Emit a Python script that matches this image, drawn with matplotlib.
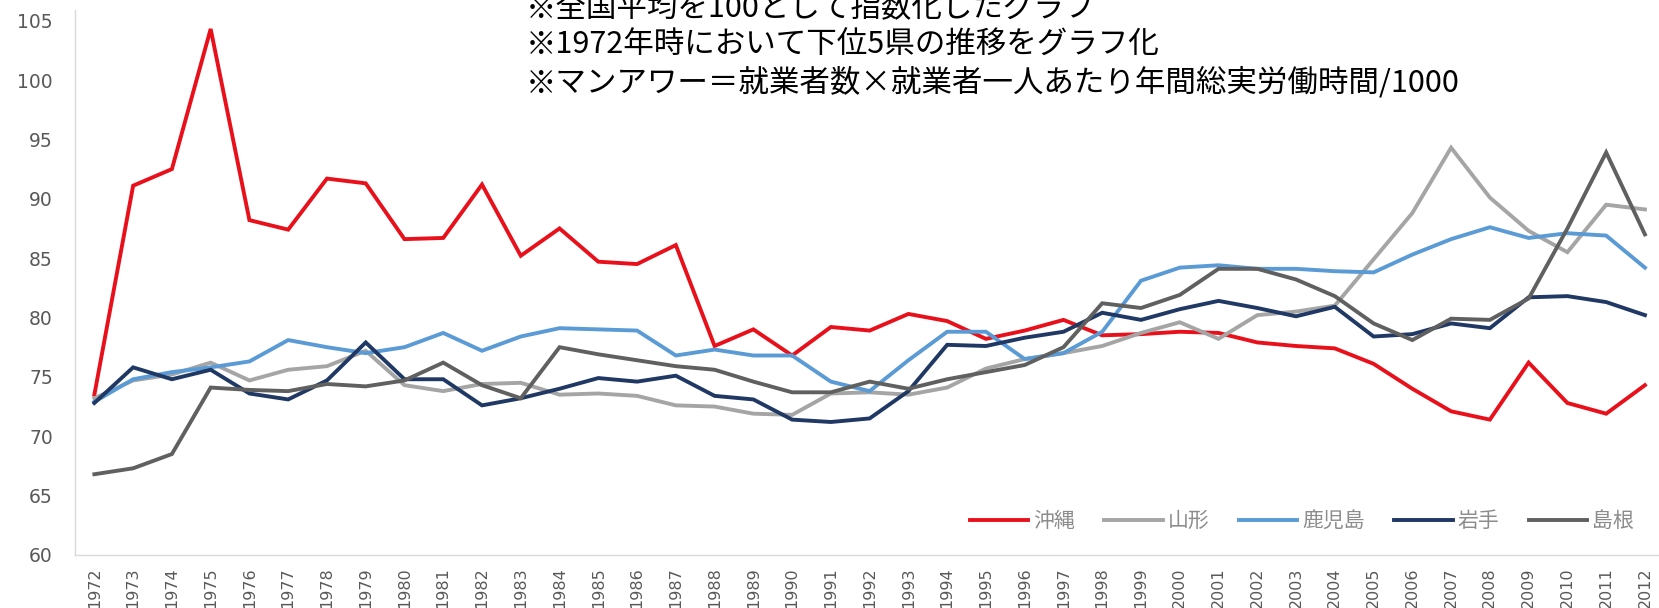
import matplotlib

matplotlib.use("Agg")
import matplotlib.pyplot as plt

years = list(range(1972, 2013))

okinawa = [73.5, 91.1, 92.5, 104.3, 88.2, 87.4, 91.7, 91.3, 86.6, 86.7,
           91.2, 85.2, 87.5, 84.7, 84.5, 86.1, 77.6, 79.0, 76.8, 79.2,
           78.9, 80.3, 79.7, 78.2, 78.9, 79.8, 78.5, 78.6, 78.8, 78.7,
           77.9, 77.6, 77.4, 76.1, 74.0, 72.1, 71.4, 76.2, 72.8, 71.9, 74.3]
yamagata = [73.2, 74.7, 75.2, 76.2, 74.7, 75.6, 75.9, 77.2, 74.3, 73.8,
            74.4, 74.5, 73.5, 73.6, 73.4, 72.6, 72.5, 71.9, 71.8, 73.6,
            73.7, 73.5, 74.1, 75.7, 76.5, 77.0, 77.6, 78.7, 79.6, 78.2,
            80.2, 80.5, 81.0, 84.9, 88.8, 94.3, 90.1, 87.3, 85.5, 89.5, 89.1]
kagoshima = [72.9, 74.8, 75.4, 75.8, 76.3, 78.1, 77.5, 77.0, 77.5, 78.7,
             77.2, 78.4, 79.1, 79.0, 78.9, 76.8, 77.3, 76.8, 76.8, 74.6,
             73.8, 76.4, 78.8, 78.8, 76.5, 77.0, 78.8, 83.1, 84.2, 84.4,
             84.1, 84.1, 83.9, 83.8, 85.3, 86.6, 87.6, 86.7, 87.1, 86.9, 84.2]
iwate = [72.8, 75.8, 74.8, 75.6, 73.6, 73.1, 74.7, 77.9, 74.8, 74.8,
         72.6, 73.2, 74.0, 74.9, 74.6, 75.1, 73.4, 73.1, 71.4, 71.2,
         71.5, 73.8, 77.7, 77.6, 78.3, 78.8, 80.4, 79.8, 80.7, 81.4,
         80.8, 80.1, 80.9, 78.4, 78.6, 79.5, 79.1, 81.7, 81.8, 81.3, 80.2]
shimane = [66.8, 67.3, 68.5, 74.1, 73.9, 73.8, 74.4, 74.2, 74.7, 76.2,
           74.3, 73.2, 77.5, 76.9, 76.4, 75.9, 75.6, 74.6, 73.7, 73.7,
           74.6, 74.0, 74.8, 75.4, 76.0, 77.5, 81.2, 80.8, 81.9, 84.1,
           84.1, 83.2, 81.8, 79.5, 78.1, 79.9, 79.8, 81.6, 87.5, 93.9, 87.0]

series_names = ["沖縄", "山形", "鹿児島", "岩手", "島根"]
y_ticks = [60, 65, 70, 75, 80, 85, 90, 95, 100, 105]
notes = [
    "※全国平均を100として指数化したグラフ",
    "※1972年時において下位5県の推移をグラフ化",
    "※マンアワー＝就業者数×就業者一人あたり年間総実労働時間/1000",
]

plt.rcParams["font.family"] = ["Noto Sans CJK JP", "DejaVu Sans"]

figure = plt.figure(figsize=(16.59, 6.08), dpi=100)
axis = figure.add_axes([0.0452, 0.0872, 0.958, 0.8964])

colors = ["#E8111B", "#A5A5A5", "#5B9BD5", "#203864", "#606060"]
for values, name, color in zip([okinawa, yamagata, kagoshima, iwate, shimane], series_names, colors):
    axis.plot(years, values, color=color, linewidth=2.8, label=name, solid_joinstyle="miter")

axis.set_xlim(1971.5, 2012.5)
axis.set_ylim(60, 105.9)
axis.set_yticks(y_ticks)
axis.set_xticks(years)
axis.set_xticklabels([str(year) for year in years], rotation=90, family="DejaVu Sans", fontsize=11.5, color="#595959")
axis.set_yticklabels([str(tick) for tick in y_ticks], family="DejaVu Sans", fontsize=13.5, color="#595959")
axis.tick_params(axis="both", length=0)
axis.tick_params(axis="y", pad=16)
axis.tick_params(axis="x", pad=9)
for side in ("top", "right"):
    axis.spines[side].set_visible(False)
for side in ("left", "bottom"):
    axis.spines[side].set_color("#D9D9D9")
    axis.spines[side].set_linewidth(1.0)

axis.legend(loc="center left", bbox_to_anchor=(970 / 1659, 1 - 521 / 608), bbox_transform=figure.transFigure,
            ncol=5, frameon=False, fontsize=15, handlelength=2.8, handletextpad=0.25,
            columnspacing=1.4, labelcolor="#8C8C8C", borderpad=0, borderaxespad=0)

for index, note in enumerate(notes):
    figure.text(526 / 1659, 1 - (8 + 37.5 * index) / 608, note, fontsize=22, va="center", ha="left",
                color="black")

figure.savefig("out.png", dpi=100)
plt.close(figure)
